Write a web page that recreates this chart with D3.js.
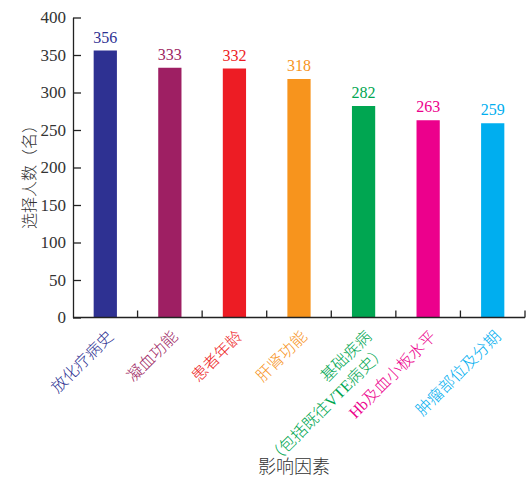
<!DOCTYPE html>
<html>
<head>
<meta charset="utf-8">
<script src="https://cdn.jsdelivr.net/npm/d3@7/dist/d3.min.js"></script>
<style>
  html, body { margin: 0; padding: 0; background: #fff; }
  svg { display: block; }
  text { font-family: "Liberation Serif", "Noto Sans CJK SC", serif; }
</style>
</head>
<body>
<svg id="chart" width="528" height="480"></svg>
<script>
// Factors affecting the choice, with the number of respondents for each
const categories = [
  ["放化疗病史"],
  ["凝血功能"],
  ["患者年龄"],
  ["肝肾功能"],
  ["基础疾病", "（包括既往VTE病史）"],
  ["Hb及血小板水平"],
  ["肿瘤部位及分期"]
];
const counts = [356, 333, 332, 318, 282, 263, 259];
const colors = ["#2E3192", "#9E1F63", "#ED1C24", "#F7941D", "#00A651", "#EC008C", "#00AEEF"];
const yTicks = [0, 50, 100, 150, 200, 250, 300, 350, 400];
const yTitle = "选择人数（名）";
const xTitle = "影响因素";

const svg = d3.select("#chart");
const plotLeft = 73, plotRight = 525, plotTop = 17.5, plotBottom = 317.5;

const keys = categories.map((c, i) => i);
const x = d3.scaleBand().domain(keys).range([plotLeft, plotRight]).padding(0);
const y = d3.scaleLinear().domain([0, 400]).range([plotBottom, plotTop]);
const barW = x.bandwidth() * 0.36;

// bars
svg.append("g").selectAll("rect")
  .data(counts)
  .join("rect")
  .attr("x", (d, i) => x(i) + (x.bandwidth() - barW) / 2)
  .attr("y", d => y(d))
  .attr("width", barW)
  .attr("height", d => y(0) - y(d))
  .attr("fill", (d, i) => colors[i]);

// value labels
svg.append("g").selectAll("text")
  .data(counts)
  .join("text")
  .attr("x", (d, i) => x(i) + x.bandwidth() / 2)
  .attr("y", d => y(d) - 8)
  .attr("text-anchor", "middle")
  .attr("font-size", 16)
  .attr("fill", (d, i) => colors[i])
  .text(d => d);

// y axis with inward ticks
const yAxis = d3.axisLeft(y).tickValues(yTicks).tickSizeInner(-8).tickSizeOuter(0).tickPadding(8);
const gy = svg.append("g").attr("transform", `translate(${plotLeft},0)`).call(yAxis);
gy.selectAll("line, path").attr("stroke", "#222").attr("stroke-width", 1.3);
gy.selectAll("text").attr("font-size", 17).attr("fill", "#333")
  .style("font-family", '"Liberation Serif", serif');
gy.selectAll(".tick text").attr("x", -7);

// x axis line with upward ticks at category boundaries
const gx = svg.append("g");
gx.append("line")
  .attr("x1", plotLeft).attr("x2", plotRight)
  .attr("y1", y(0)).attr("y2", y(0))
  .attr("stroke", "#222").attr("stroke-width", 1.3);
const bounds = keys.map(k => x(k) + x.bandwidth());
gx.selectAll("line.tick")
  .data(bounds)
  .join("line")
  .attr("class", "tick")
  .attr("x1", d => d).attr("x2", d => d)
  .attr("y1", y(0)).attr("y2", y(0) - 7)
  .attr("stroke", "#222").attr("stroke-width", 1.3);

// rotated category labels
const labels = svg.append("g").selectAll("text")
  .data(categories)
  .join("text")
  .attr("transform", (d, i) => `translate(${x(i) + x.bandwidth() / 2 + 9},${plotBottom + 20}) rotate(-45)`)
  .attr("text-anchor", "end")
  .attr("font-size", 16)
  .attr("font-weight", 300)
  .attr("fill", (d, i) => colors[i]);
labels.selectAll("tspan")
  .data(d => d)
  .join("tspan")
  .attr("x", 0)
  .attr("dy", (d, j) => j === 0 ? 0 : "1.3em")
  .text(d => d);

// axis titles
svg.append("text")
  .attr("transform", "translate(35,173) rotate(-90)")
  .attr("text-anchor", "middle")
  .attr("font-size", 16)
  .attr("font-weight", 300)
  .attr("fill", "#333")
  .text(yTitle);

svg.append("text")
  .attr("x", 294)
  .attr("y", 473)
  .attr("text-anchor", "middle")
  .attr("font-size", 18)
  .attr("font-weight", 300)
  .attr("fill", "#333")
  .text(xTitle);
</script>
</body>
</html>
